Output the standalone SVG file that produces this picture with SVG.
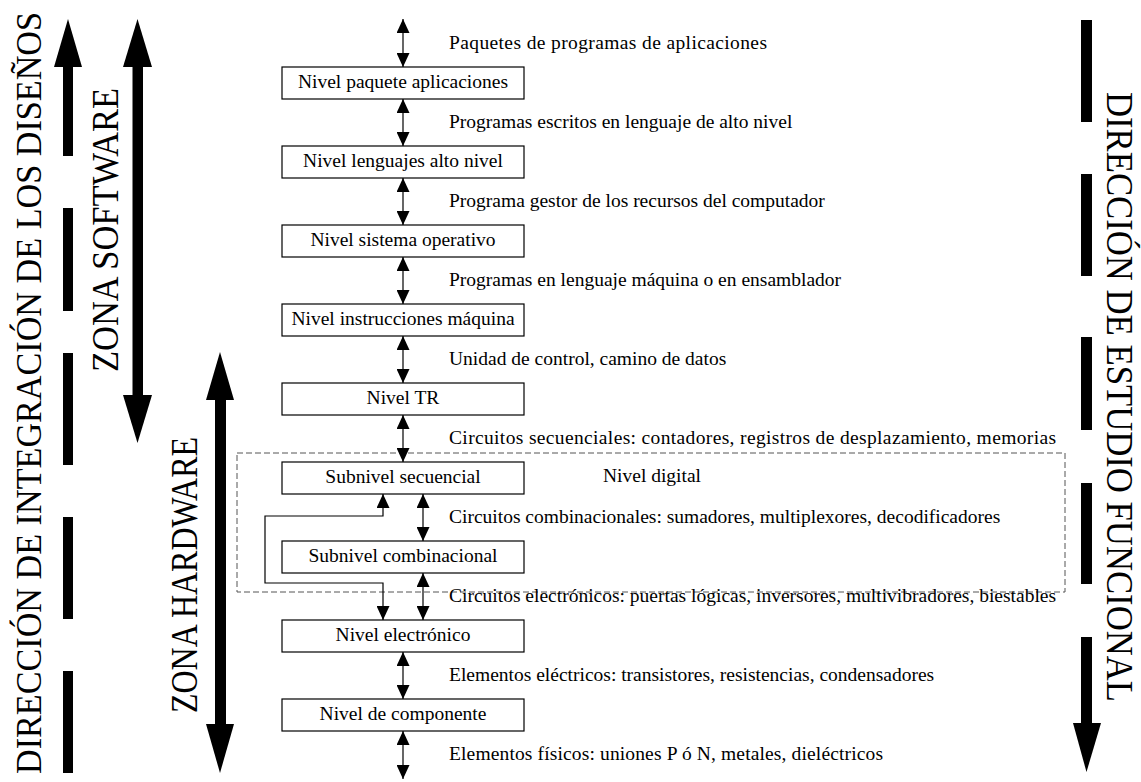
<svg xmlns="http://www.w3.org/2000/svg" width="1141" height="782" viewBox="0 0 1141 782">
<style>
text{font-family:"Liberation Serif","Times New Roman",serif;fill:#000}
.lbl{font-size:19.5px}
.dig{font-size:19.5px}
.box rect{fill:#fff;stroke:#000;stroke-width:1.2}
.box text{font-size:19.5px;text-anchor:middle}
.big{font-size:37px}
.con{fill:none;stroke:#000;stroke-width:1.2;marker-start:url(#ah);marker-end:url(#ah)}
.bar{fill:#000}
</style>
<defs>
<marker id="ah" viewBox="0 0 14 13" refX="14" refY="6.5" markerWidth="14" markerHeight="13" markerUnits="userSpaceOnUse" orient="auto-start-reverse">
<path d="M0,0 L14,6.5 L0,13 z" fill="#000"/>
</marker>
</defs>
<rect width="1141" height="782" fill="#fff"/>

<g id="integracion">
<polygon class="bar" points="68,19 82,67 54,67"/>
<rect class="bar" x="63" y="66" width="10" height="90"/>
<rect class="bar" x="63" y="208" width="10" height="103"/>
<rect class="bar" x="63" y="353" width="10" height="112"/>
<rect class="bar" x="63" y="517" width="10" height="102"/>
<rect class="bar" x="63" y="671" width="10" height="102"/>
<text class="big" style="font-size:35px" transform="translate(41,774) rotate(-90)" textLength="762" lengthAdjust="spacingAndGlyphs">DIRECCIÓN DE INTEGRACIÓN DE LOS DISEÑOS</text>
</g>

<g id="software">
<polygon class="bar" points="137.5,19 152,67 123,67"/>
<rect class="bar" x="132.5" y="66" width="10.5" height="330"/>
<polygon class="bar" points="123,395 152,395 137.5,443"/>
<text class="big" transform="translate(118,372) rotate(-90)" textLength="284" lengthAdjust="spacingAndGlyphs">ZONA SOFTWARE</text>
</g>

<g id="hardware">
<polygon class="bar" points="220,352 234,400 206,400"/>
<rect class="bar" x="215" y="399" width="11" height="326"/>
<polygon class="bar" points="206,724 234,724 220,773"/>
<text class="big" transform="translate(197,713) rotate(-90)" textLength="276" lengthAdjust="spacingAndGlyphs">ZONA HARDWARE</text>
</g>

<g id="estudio">
<rect class="bar" x="1081" y="20" width="11" height="102"/>
<rect class="bar" x="1081" y="174" width="11" height="102"/>
<rect class="bar" x="1081" y="337" width="11" height="93"/>
<rect class="bar" x="1081" y="483" width="11" height="101"/>
<rect class="bar" x="1081" y="637" width="11" height="87"/>
<polygon class="bar" points="1073,723 1101,723 1086.5,772"/>
<text class="big" transform="translate(1107,92) rotate(90)" textLength="610" lengthAdjust="spacingAndGlyphs">DIRECCIÓN DE ESTUDIO FUNCIONAL</text>
</g>

<g id="nivel-digital">
<rect x="237" y="453" width="828" height="139" fill="none" stroke="#555" stroke-width="1" stroke-dasharray="6,3"/>
<text class="dig" x="603" y="482">Nivel digital</text>
</g>

<g id="connectors">
<line class="con" x1="403" y1="19" x2="403" y2="67"/>
<line class="con" x1="403" y1="99" x2="403" y2="146"/>
<line class="con" x1="403" y1="178" x2="403" y2="225"/>
<line class="con" x1="403" y1="257" x2="403" y2="304"/>
<line class="con" x1="403" y1="336" x2="403" y2="383"/>
<line class="con" x1="403" y1="415" x2="403" y2="462"/>
<line class="con" x1="423" y1="494" x2="423" y2="541"/>
<line class="con" x1="423" y1="573" x2="423" y2="620"/>
<line class="con" x1="403" y1="652" x2="403" y2="699"/>
<line class="con" x1="403" y1="731" x2="403" y2="779"/>
<path class="con" d="M383,620 L383,583 L265,583 L265,516 L383,516 L383,494"/>
</g>

<g id="labels">
<text class="lbl" x="449" y="49" textLength="318">Paquetes de programas de aplicaciones</text>
<text class="lbl" x="449" y="128">Programas escritos en lenguaje de alto nivel</text>
<text class="lbl" x="449" y="207">Programa gestor de los recursos del computador</text>
<text class="lbl" x="449" y="286">Programas en lenguaje máquina o en ensamblador</text>
<text class="lbl" x="449" y="365">Unidad de control, camino de datos</text>
<text class="lbl" x="449" y="444" textLength="607">Circuitos secuenciales: contadores, registros de desplazamiento, memorias</text>
<text class="lbl" x="449" y="523">Circuitos combinacionales: sumadores, multiplexores, decodificadores</text>
<text class="lbl" x="449" y="602">Circuitos electrónicos: puertas lógicas, inversores, multivibradores, biestables</text>
<text class="lbl" x="449" y="681">Elementos eléctricos: transistores, resistencias, condensadores</text>
<text class="lbl" x="449" y="760" textLength="434">Elementos físicos: uniones P ó N, metales, dieléctricos</text>
</g>

<g id="n1" class="box"><rect x="282" y="67" width="242" height="32"/><text x="403" y="88">Nivel paquete aplicaciones</text></g>
<g id="n2" class="box"><rect x="282" y="146" width="242" height="32"/><text x="403" y="167">Nivel lenguajes alto nivel</text></g>
<g id="n3" class="box"><rect x="282" y="225" width="242" height="32"/><text x="403" y="246">Nivel sistema operativo</text></g>
<g id="n4" class="box"><rect x="282" y="304" width="242" height="32"/><text x="403" y="325">Nivel instrucciones máquina</text></g>
<g id="n5" class="box"><rect x="282" y="383" width="242" height="32"/><text x="403" y="404">Nivel TR</text></g>
<g id="n6" class="box"><rect x="282" y="462" width="242" height="32"/><text x="403" y="483">Subnivel secuencial</text></g>
<g id="n7" class="box"><rect x="282" y="541" width="242" height="32"/><text x="403" y="562">Subnivel combinacional</text></g>
<g id="n8" class="box"><rect x="282" y="620" width="242" height="32"/><text x="403" y="641">Nivel electrónico</text></g>
<g id="n9" class="box"><rect x="282" y="699" width="242" height="32"/><text x="403" y="720">Nivel de componente</text></g>
</svg>
